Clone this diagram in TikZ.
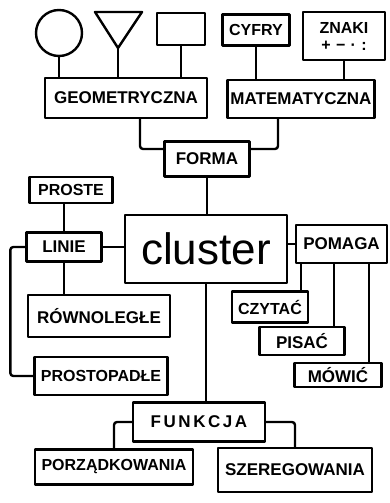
\documentclass[tikz,border=0pt]{standalone}
\usepackage{fontspec}
\setsansfont{Liberation Sans}

\begin{document}
\begin{tikzpicture}[x=1pt,y=-1pt,line width=2.4pt,line join=round,line cap=round,
  box/.style={draw,inner sep=0pt,font=\sffamily\bfseries\fontsize{17}{19}\selectfont},
  smallbox/.style={box,font=\sffamily\bfseries\fontsize{16}{18}\selectfont},
  link/.style={rounded corners=3pt}]
\useasboundingbox (0,0) rectangle (389,503);

% top row of shapes and signs
\node [draw,circle,minimum size=46pt,inner sep=0pt] (circ) at (59,33) {};
\coordinate (tri) at (118,48);
\draw (95,12) -- (142,12) -- (tri) -- cycle;
\node [box,minimum width=48pt,minimum height=32pt] (sq) at (181,29) {};
\node [smallbox,minimum width=67pt,minimum height=31pt] (cyfry) at (256,30) {CYFRY};
\node [smallbox,minimum width=82pt,minimum height=48pt,align=center] (znaki) at (344,36)
  {ZNAKI\\[-1pt]+\,\,−\,\,·\,\,:};

\node [box,minimum width=162pt,minimum height=40pt] (geo) at (126,98) {GEOMETRYCZNA};
\node [box,minimum width=147pt,minimum height=38pt] (mat) at (301,99) {MATEMATYCZNA};
\node [box,minimum width=85pt,minimum height=35pt] (forma) at (207,159) {FORMA};
\node [box,minimum width=162pt,minimum height=68pt,
  font=\sffamily\fontsize{44}{48}\selectfont] (cluster) at (206,249) {cluster};

% left side
\node [smallbox,minimum width=83pt,minimum height=26pt] (proste) at (71,190) {PROSTE};
\node [box,minimum width=75pt,minimum height=29pt] (linie) at (64,247) {LINIE};
\node [box,minimum width=142pt,minimum height=42pt] (rown) at (99,316) {RÓWNOLEGŁE};
\node [smallbox,minimum width=133pt,minimum height=38pt] (prostop) at (101,376) {PROSTOPADŁE};

% right side
\node [box,minimum width=91pt,minimum height=38pt] (pomaga) at (341.5,244) {POMAGA};
\node [smallbox,minimum width=76pt,minimum height=31pt] (czytac) at (270,307) {CZYTAĆ};
\node [box,minimum width=85pt,minimum height=28pt] (pisac) at (302,341) {PISAĆ};
\node [box,minimum width=87pt,minimum height=24pt] (mowic) at (338,375) {MÓWIĆ};

% bottom
\node [box,minimum width=132pt,minimum height=39pt,
  font=\sffamily\bfseries\fontsize{17}{19}\selectfont\addfontfeature{LetterSpace=15}] (funkcja) at (199,422) {FUNKCJA};
\node [smallbox,minimum width=158pt,minimum height=35pt] (porz) at (114,467) {PORZĄDKOWANIA};
\node [box,minimum width=154pt,minimum height=44pt] (szereg) at (295,470) {SZEREGOWANIA};

% connections
\draw (circ.south) -- (circ.south |- geo.north);
\draw (tri) -- (tri |- geo.north);
\draw (sq.south) -- (sq.south |- geo.north);
\draw (cyfry.south) -- (cyfry.south |- mat.north);
\draw (znaki.south) -- (znaki.south |- mat.north);
\draw [link] ([xshift=14pt]geo.south) |- ([yshift=10pt]forma.west);
\draw [link] ([xshift=-23pt]mat.south) |- ([yshift=10pt]forma.east);
\draw (forma.south) -- (forma.south |- cluster.north);

\draw (linie.north |- proste.south) -- (linie.north);
\draw (linie.south) -- (linie.south |- rown.north);
\draw (linie.east) -- (linie.east -| cluster.west);
\draw [link] (linie.west) -- ++(-15,0) |- (prostop.west);

\draw (pomaga.west -| cluster.east) -- (pomaga.west);
\draw ([xshift=6pt]pomaga.south west) -- ([xshift=6pt]pomaga.south west |- czytac.north);
\draw ([xshift=39pt]pomaga.south west) -- ([xshift=39pt]pomaga.south west |- pisac.north);
\draw ([xshift=74pt]pomaga.south west) -- ([xshift=74pt]pomaga.south west |- mowic.north);

\draw (cluster.south) -- (cluster.south |- funkcja.north);
\draw [link] (funkcja.west) -| (porz.north);
\draw [link] (funkcja.east) -| (szereg.north);

\end{tikzpicture}
\end{document}
